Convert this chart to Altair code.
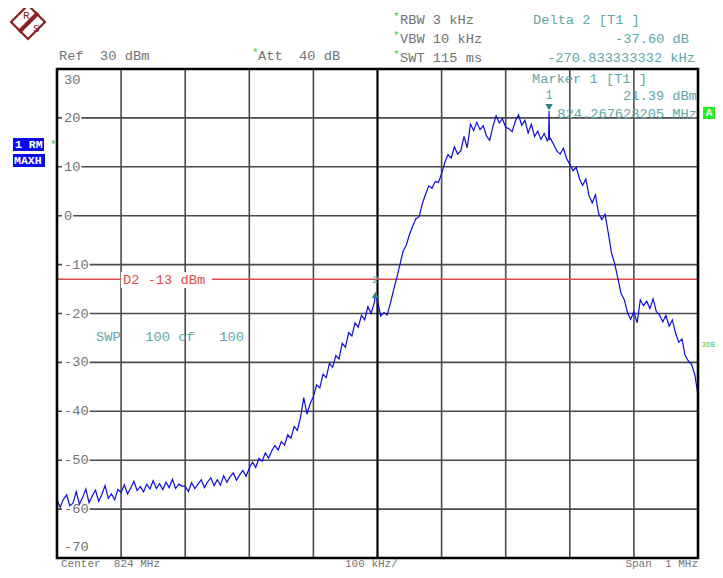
import altair as alt
import pandas as pd

FONT = "Liberation Mono"
FS = 13.7
SP = "\u00a0"  # non-collapsing space

# ---- data -------------------------------------------------------------
span_start_khz = -500
step_khz = 5
trace_dbm = [
    -58.2, -59.6, -58.0, -57.1, -59.3, -58.8, -56.4, -59.0, -57.6, -55.9,
    -58.7, -57.3, -56.1, -58.4, -57.0, -55.2, -57.8, -56.9, -58.1, -56.0,
    -56.6, -55.0, -56.9, -55.7, -54.3, -56.2, -55.4, -56.5, -54.9, -55.9,
    -54.2, -55.8, -54.8, -56.0, -54.5, -55.6, -53.9, -55.8, -54.9, -55.3,
    -55.3, -56.4, -54.6, -55.8, -54.9, -54.0, -55.6, -54.4, -53.6, -55.2,
    -54.0, -55.1, -53.2, -54.5, -53.4, -52.6, -54.1, -53.0, -52.1, -53.3,
    -51.6, -50.4, -51.5, -49.6, -50.2, -48.5, -49.6, -48.1, -47.0, -47.9,
    -46.2, -46.9, -44.8, -45.5, -43.1, -43.9, -41.2, -37.2, -40.6, -38.4,
    -37.0, -34.6, -35.2, -32.4, -33.1, -30.2, -31.0, -28.6, -29.3, -26.1,
    -26.9, -23.9, -24.6, -21.9, -22.8, -20.4, -21.3, -18.6, -20.0, -17.8,
    -17.4, -20.5, -19.8, -20.3, -18.0, -15.2, -12.7, -10.0, -7.2, -6.0,
    -3.8, -2.1, -0.6, -0.2, 2.5, 4.4, 6.1, 5.6, 7.0, 6.8,
    8.6, 10.9, 12.5, 11.8, 14.1, 12.6, 13.3, 16.2, 13.9, 18.7,
    17.4, 19.1, 17.6, 18.4, 16.3, 15.4, 18.2, 20.4, 19.0, 19.8,
    18.1, 17.8, 17.2, 19.3, 20.6, 18.5, 19.5, 16.9, 18.7, 16.2,
    17.3, 15.6, 16.8, 15.3, 15.8, 14.5, 13.2, 12.6, 13.8, 11.7,
    10.5, 9.2, 9.9, 7.6, 6.2, 7.5, 4.1, 2.6, 4.3, 0.4,
    -0.8, 0.3, -3.5, -7.6, -9.8, -12.8, -15.9, -17.2, -19.8, -21.2,
    -19.6, -21.9, -17.2, -18.4, -17.5, -19.0, -17.0, -19.6, -20.3, -21.7,
    -20.4, -22.6, -21.3, -24.0, -25.9, -25.2, -28.6, -29.7, -30.4, -32.5,
    -36.6,
]
freq_khz = [span_start_khz + step_khz * i for i in range(len(trace_dbm))]

# extra narrow samples (marker peaks)
spike_khz = [-3.2, 266.9, 267.63, 268.4]
spike_dbm = [-16.21, 15.9, 21.39, 15.6]

marker1_khz, marker1_dbm = 267.63, 21.39
marker2_khz, marker2_dbm = -3.2, -16.21
d2_level = -13

y_label_vals = [30, 20, 10, 0, -10, -20, -30, -40, -50, -60, -70]
y_grid_vals = [20, 10, 0, -10, -20, -30, -40, -50, -60]
x_grid_vals = [-400, -300, -200, -100, 100, 200, 300, 400]

# ---- colours ------------------------------------------------------------
GREY_TXT = "#737373"
TEAL_TXT = "#5ea8a8"
TEAL_MK = "#2b8585"
RED = "#dd4a4a"
BLUE = "#0c0ce6"
GREEN = "#2fd12f"
GRID = "#4a4a4a"

X0, Y0 = 57, 69  # page position of plot origin

xs = alt.Scale(domain=[-500, 500], nice=False, zero=False)
ys = alt.Scale(domain=[-70, 30], nice=False, zero=False)

one = pd.DataFrame({"a": [0]})


def sp(s):
    return s.replace(" ", SP)


def txt(s, px, py, color, size=FS, align="left", weight="normal", baseline="middle"):
    return alt.Chart(one).mark_text(
        text=sp(s), align=align, baseline=baseline, font=FONT, fontSize=size,
        color=color, fontWeight=weight,
    ).encode(x=alt.value(px - X0), y=alt.value(py - Y0))


def box(x1, y1, x2, y2, color):
    return alt.Chart(one).mark_rect(color=color).encode(
        x=alt.value(x1 - X0), x2=alt.value(x2 - X0),
        y=alt.value(y1 - Y0), y2=alt.value(y2 - Y0))


trace_df = pd.DataFrame({"f": freq_khz + spike_khz, "v": trace_dbm + spike_dbm}).sort_values("f")

# grid
vgrid = alt.Chart(pd.DataFrame({"f": x_grid_vals})).mark_rule(color=GRID, strokeWidth=1.6).encode(
    x=alt.X("f:Q", scale=xs, axis=None))
hgrid = alt.Chart(pd.DataFrame({"v": y_grid_vals})).mark_rule(color=GRID, strokeWidth=1.6).encode(
    y=alt.Y("v:Q", scale=ys, axis=None))
center = alt.Chart(pd.DataFrame({"f": [0]})).mark_rule(color="#000", strokeWidth=2.2).encode(
    x=alt.X("f:Q", scale=xs, axis=None))

# y labels (inside plot, gridline interrupted)
lab_df = pd.DataFrame({"v": y_label_vals, "label": [str(v) for v in y_label_vals]})
lab_base = alt.Chart(lab_df).transform_calculate(
    ypos="datum.v == 30 ? 27.8 : (datum.v == -70 ? -67.8 : datum.v)",
    yt="datum.ypos + 1.3", yb="datum.ypos - 1.3",
    bx0="5", bx1="7 + length(datum.label) * 8.2 + 1",
)
lab_box = lab_base.mark_rect(color="white").encode(
    x=alt.X("bx0:Q", scale=None), x2="bx1:Q",
    y=alt.Y("yt:Q", scale=ys, axis=None), y2="yb:Q")
lab_txt = lab_base.mark_text(align="left", baseline="middle", font=FONT, fontSize=FS,
                             color=GREY_TXT).encode(
    x=alt.value(7), y=alt.Y("ypos:Q", scale=ys, axis=None), text="label:N")

# D2 display line
d2_line = alt.Chart(pd.DataFrame({"v": [d2_level]})).mark_rule(color=RED, strokeWidth=1.3).encode(
    y=alt.Y("v:Q", scale=ys, axis=None))
d2_box = box(121, 272, 212, 288, "white")
d2_txt = txt("D2 -13 dBm", 123, 280, RED)

swp = txt("SWP   100 of   100", 96, 337, TEAL_TXT)

trace = alt.Chart(trace_df).mark_line(color=BLUE, strokeWidth=1.2).encode(
    x=alt.X("f:Q", scale=xs, axis=None), y=alt.Y("v:Q", scale=ys, axis=None))

m1 = alt.Chart(pd.DataFrame({"f": [marker1_khz], "v": [marker1_dbm]})).mark_point(
    shape="triangle-down", filled=True, color=TEAL_MK, size=55, opacity=1, yOffset=-4).encode(
    x=alt.X("f:Q", scale=xs, axis=None), y=alt.Y("v:Q", scale=ys, axis=None))
m1_lab = alt.Chart(pd.DataFrame({"f": [marker1_khz]})).mark_text(
    text="1", font=FONT, fontSize=12, color=TEAL_TXT, baseline="middle").encode(
    x=alt.X("f:Q", scale=xs, axis=None), y=alt.value(95 - Y0))
m2 = alt.Chart(pd.DataFrame({"f": [marker2_khz], "v": [marker2_dbm]})).mark_point(
    shape="triangle-up", filled=True, color=TEAL_MK, size=55, opacity=1).encode(
    x=alt.X("f:Q", scale=xs, axis=None), y=alt.Y("v:Q", scale=ys, axis=None))
m2_lab = alt.Chart(pd.DataFrame({"f": [marker2_khz]})).mark_text(
    text="2", font=FONT, fontSize=11, color=TEAL_TXT, baseline="middle").encode(
    x=alt.X("f:Q", scale=xs, axis=None), y=alt.value(280 - Y0))

frame = alt.Chart(one).mark_rect(filled=False, stroke="#000", strokeWidth=2.6).encode(
    x=alt.value(0), x2=alt.value(641), y=alt.value(0), y2=alt.value(489))

# ---- header / annotations -----------------------------------------------
texts = [
    txt("Ref  30 dBm", 59, 56, GREY_TXT),
    txt("*", 252, 53, GREEN, size=11),
    txt("Att  40 dB", 258, 56, GREY_TXT),
    txt("*", 393, 17, GREEN, size=11),
    txt("RBW 3 kHz", 400, 20, GREY_TXT),
    txt("*", 393, 36, GREEN, size=11),
    txt("VBW 10 kHz", 400, 39, GREY_TXT),
    txt("*", 393, 55, GREEN, size=11),
    txt("SWT 115 ms", 400, 58, GREY_TXT),
    txt("Delta 2 [T1 ]", 533, 20, TEAL_TXT),
    txt("-37.60 dB", 689, 39, TEAL_TXT, align="right"),
    txt("-270.833333332 kHz", 695, 58, TEAL_TXT, align="right"),
    txt("Marker 1 [T1 ]", 532, 79, TEAL_TXT),
    txt("21.39 dBm", 697, 96, TEAL_TXT, align="right"),
    txt("824.267628205 MHz", 697, 114, TEAL_TXT, align="right"),
    txt("Center  824 MHz", 61, 566.6, GREY_TXT, size=11, baseline="alphabetic"),
    txt("100 kHz/", 345, 566.6, GREY_TXT, size=11, baseline="alphabetic"),
    txt("Span  1 MHz", 698, 566.6, GREY_TXT, size=11, align="right", baseline="alphabetic"),
    box(703, 107, 715, 119, "#22ee22"),
    txt("A", 709, 113, "#f4f4f4", size=11, align="center", weight="bold"),
    box(13, 138, 44, 151, "#0a0aee"),
    txt("1 RM", 15, 145, "white", size=11.5, weight="bold"),
    txt("*", 50, 145, GREEN, size=11),
    box(13, 154, 45, 167, "#0a0aee"),
    txt("MAXH", 14, 161, "white", size=11.5, weight="bold"),
    txt("3DB", 701.5, 345, GREEN, size=7.8),
]

# R&S logo
logo_diamond = alt.Chart(one).mark_point(
    shape="diamond", filled=False, stroke="#8b1e1e", strokeWidth=2.2, size=1150, opacity=1).encode(
    x=alt.value(28 - X0), y=alt.value(22 - Y0))
logo_bar = alt.Chart(one).mark_rule(color="#8b1e1e", strokeWidth=4).encode(
    x=alt.value(38 - X0), y=alt.value(13 - Y0), x2=alt.value(19 - X0), y2=alt.value(32 - Y0))
logo_r = txt("R", 23, 16, "#8b1e1e", size=11)
logo_s = txt("S", 33, 29, "#8b1e1e", size=11)

chart = alt.layer(
    vgrid, hgrid, center, lab_box, lab_txt, d2_line, d2_box, d2_txt, swp,
    trace, m1, m1_lab, m2, m2_lab, frame,
    logo_diamond, logo_bar, logo_r, logo_s, *texts,
).properties(
    width=641, height=489,
    padding={"left": 49, "top": 61, "right": 17, "bottom": 12},
    autosize=alt.AutoSizeParams(type="none"),
    background="white",
).configure_view(stroke=None)

chart.save("out.html", embed_options={"renderer": "svg", "actions": False})
